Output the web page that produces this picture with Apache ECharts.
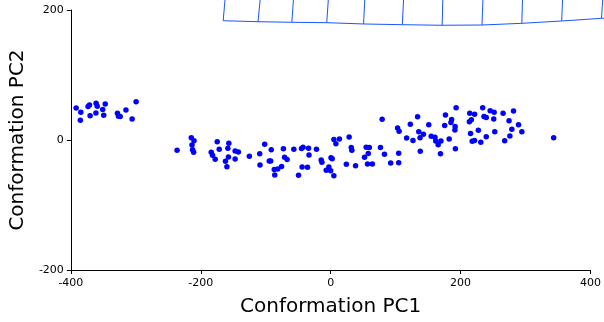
<!DOCTYPE html>
<html>
<head>
<meta charset="utf-8">
<script src="https://cdn.jsdelivr.net/npm/echarts@6/dist/echarts.min.js"></script>
<style>html,body{margin:0;padding:0;background:#fff}#c{width:604px;height:322px}</style>
</head>
<body>
<div id="c"></div>
<script>
var xTicks = [-400, -200, 0, 200, 400];
var yTicks = [-200, 0, 200];

var pcX = [
-391.9,-384.7,-385.4,-373.5,-371.3,-370.4,-361.2,-359.4,-361.4,-351.0,-347.1,-349.4,-328.3,-326.7,-324.1,-315.2,-305.7,-299.6,
-236.5,-214.6,-210.4,-213.5,-212.6,-211.0,-174.7,-171.6,-183.9,-181.9,-177.8,-156.8,-158.3,-157.4,-162.0,-159.8,-147.1,-142.1,-147.1,-125.2,-109.3,-108.8,-101.6,
-94.6,-92.4,-91.5,-86.9,-81.5,-86.1,-75.6,-72.8,-71.0,-67.1,-56.7,-49.5,-44.9,-42.5,-44.0,-35.7,-34.2,-33.4,-21.9,-14.6,-13.5,-6.9,-2.8,0.0,0.5,2.3,4.9,4.9,8.0,13.5,24.1,28.4,31.7,32.6,38.3,
52.1,54.7,59.5,57.8,56.7,64.1,76.6,79.2,82.8,92.4,103.0,105.3,104.7,104.7,116.9,122.6,126.7,133.8,135.6,137.6,137.9,142.8,151.0,154.8,160.6,161.7,165.5,169.7,169.0,175.5,176.7,182.4,185.1,186.2,191.6,191.3,193.1,192.0,
213.5,216.6,214.1,221.5,215.3,217.9,221.5,227.3,231.1,234.0,236.0,239.5,239.5,245.5,251.0,251.6,252.6,265.4,267.9,274.6,275.9,278.9,281.5,289.2,294.3,343.3
];
var pcY = [
49.2,42.6,30.3,51.5,53.8,37.4,56.6,52.0,41.5,46.9,55.4,38.2,41.2,36.5,36.2,46.2,32.3,58.9,
-15.8,3.5,-1.1,-7.7,-14.9,-18.9,-2.6,-14.3,-18.9,-23.5,-29.7,-5.1,-12.8,-26.2,-32.8,-41.1,-16.9,-18.5,-29.2,-25.1,-21.1,-38.5,-6.6,
-32.3,-32.3,-14.9,-45.4,-44.6,-53.8,-40.8,-13.4,-26.5,-30.0,-14.3,-54.3,-13.1,-11.2,-41.5,-42.0,-12.8,-23.1,-14.2,-30.8,-34.3,-46.6,-41.5,-47.4,-27.4,-28.9,-54.9,0.8,-5.7,1.5,-37.2,4.6,-11.5,-15.7,-39.5,
-26.5,-11.2,-11.4,-20.8,-36.9,-36.9,-11.5,31.8,-21.8,-35.4,18.5,13.5,-20.5,-34.9,3.1,24.2,-0.8,35.8,12.6,3.5,-17.2,8.8,23.5,5.8,4.3,-1.5,-7.2,-1.5,-21.1,22.3,38.5,1.5,26.9,31.5,20.8,15.4,49.7,-13.4,
28.2,31.1,41.1,39.5,10.0,-2.0,-0.8,14.9,-3.5,49.5,36.2,34.6,5.1,44.9,32.3,42.6,12.6,41.2,-1.1,29.7,6.2,16.5,44.6,23.5,12.8,3.5
];

// grid curve at the top (extends past the axes)
var arcX = [-165.5,-111.9,-59.8,-6.1,50.6,110.3,171.6,232.9,294.3,355.6,416.9,435.0];
var arcY = [183.5,182.0,181.1,180.5,178.5,177.4,176.5,176.9,179.5,183.1,187.2,188.3];
var tickBottomX = [-165.5,-111.9,-59.8,-6.1,50.6,110.3,171.6,232.9,294.3,355.6,416.9];
var tickBottomY = [183.5,182.0,181.1,180.5,178.5,177.4,176.5,176.9,179.5,183.1,187.2];
var tickTopX = [-162.5,-108.4,-57.2,-3.5,52.6,112.3,172.7,234.5,295.3,357.1,418.9];
var tickTopY = 218;

var pts = pcX.map(function(x, i){ return [x, pcY[i]]; });
var segs = tickBottomX.map(function(x, i){ return [x, tickBottomY[i], tickTopX[i], tickTopY]; });

var blueLine = { stroke: '#1a55ff', lineWidth: 1, fill: null };

var series = [{
  type: 'scatter',
  data: pts,
  symbolSize: 5.5,
  itemStyle: { color: '#0000ff', opacity: 1 },
  silent: true,
  animation: false
}, {
  type: 'custom',
  data: [0],
  clip: false,
  silent: true,
  animation: false,
  renderItem: function(params, api){
    var p = arcX.map(function(x, i){ return api.coord([x, arcY[i]]); });
    return { type: 'polyline', shape: { points: p }, style: blueLine, silent: true };
  }
}, {
  type: 'custom',
  data: segs,
  clip: false,
  silent: true,
  animation: false,
  encode: { x: [0, 2], y: [1, 3] },
  renderItem: function(params, api){
    var a = api.coord([api.value(0), api.value(1)]);
    var b = api.coord([api.value(2), api.value(3)]);
    return { type: 'line', shape: { x1: a[0], y1: a[1], x2: b[0], y2: b[1] }, style: blueLine, silent: true };
  }
}];

var font = 'DejaVu Sans';
var chart = echarts.init(document.getElementById('c'), null, { renderer: 'canvas' });
chart.setOption({
  animation: false,
  backgroundColor: '#fff',
  grid: { left: 69, right: 13, top: 10, bottom: 52, containLabel: false },
  xAxis: {
    type: 'value', min: xTicks[0], max: xTicks[xTicks.length - 1], interval: 200,
    name: 'Conformation PC1', nameLocation: 'middle', nameGap: 27,
    nameTextStyle: { fontFamily: font, fontSize: 20, color: '#000' },
    axisLine: { show: true, onZero: false, lineStyle: { color: '#000', width: 1 } },
    axisTick: { show: true, length: 4, inside: false, lineStyle: { color: '#000' } },
    axisLabel: { fontFamily: font, fontSize: 11, color: '#000', margin: 8, showMinLabel: true, showMaxLabel: true },
    splitLine: { show: false }
  },
  yAxis: {
    type: 'value', min: yTicks[0], max: yTicks[yTicks.length - 1], interval: 200,
    name: 'Conformation PC2', nameLocation: 'middle', nameGap: 40, nameRotate: 90,
    nameTextStyle: { fontFamily: font, fontSize: 20, color: '#000' },
    axisLine: { show: true, onZero: false, lineStyle: { color: '#000', width: 1 } },
    axisTick: { show: true, length: 4, inside: false, lineStyle: { color: '#000' } },
    axisLabel: { fontFamily: font, fontSize: 11, color: '#000', margin: 7, showMinLabel: true, showMaxLabel: true },
    splitLine: { show: false }
  },
  series: series
});
</script>
</body>
</html>
